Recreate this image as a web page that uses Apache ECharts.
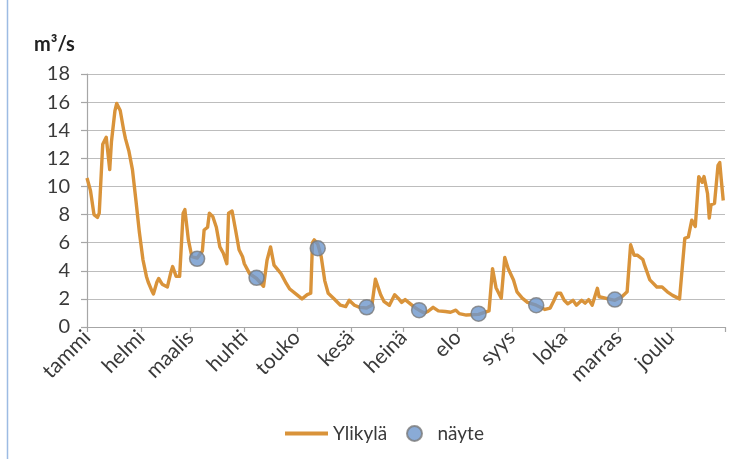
<!DOCTYPE html>
<html>
<head>
<meta charset="utf-8">
<script src="https://cdn.jsdelivr.net/npm/echarts@6/dist/echarts.min.js"></script>
<style>
  html, body { margin: 0; padding: 0; background: #fff; }
  #chart { width: 752px; height: 459px; }
</style>
</head>
<body>
<div id="chart"></div>
<script>
// Month names and the day-of-year on which each month starts
const monthNames = ['tammi', 'helmi', 'maalis', 'huhti', 'touko', 'kesä', 'heinä', 'elo', 'syys', 'loka', 'marras', 'joulu'];
const monthStarts = [0, 31, 59, 90, 120, 151, 181, 212, 243, 273, 304, 334, 365];

// Y axis tick values (m³/s)
const yTicks = [0, 2, 4, 6, 8, 10, 12, 14, 16, 18];

// Daily discharge at Ylikylä: day of year and flow (m³/s)
const flowDays = [
  0, 2, 4, 6, 7, 9, 11, 13, 14, 16, 17, 19, 21, 22, 24, 26, 28, 30, 32, 34,
  35, 37, 38, 40, 41, 43, 46, 48, 49, 51, 53, 55, 56, 58, 60, 63, 66, 67, 69, 70,
  72, 74, 76, 78, 80, 81, 83, 85, 87, 89, 90, 93, 97, 101, 103, 105, 107, 111, 114, 116,
  120, 123, 126, 128, 129, 130, 132, 134, 136, 138, 141, 145, 148, 150, 153, 156, 160, 163, 165, 166,
  168, 170, 173, 176, 178, 180, 182, 185, 188, 190, 193, 195, 198, 201, 205, 208, 211, 213, 217, 224,
  230, 232, 234, 237, 239, 241, 244, 246, 249, 252, 257, 262, 265, 267, 269, 271, 273, 275, 278, 280,
  283, 285, 287, 289, 292, 293, 302, 306, 309, 311, 313, 315, 318, 319, 322, 326, 329, 330, 332, 335,
  339, 342, 344, 346, 348, 349, 350, 352, 353, 355, 356, 357, 359, 361, 362, 363, 364
];
const flowValues = [
  10.6, 9.7, 8.0, 7.8, 8.1, 13.0, 13.5, 11.2, 13.2, 15.4, 15.9, 15.4, 14.0, 13.4, 12.5, 11.2, 9.0, 6.7, 4.8, 3.6,
  3.2, 2.6, 2.35, 3.2, 3.45, 3.05, 2.85, 3.9, 4.3, 3.6, 3.6, 8.1, 8.35, 6.2, 5.0, 4.9, 5.4, 6.9, 7.1, 8.1,
  7.85, 7.1, 5.7, 5.25, 4.5, 8.1, 8.25, 6.9, 5.5, 5.0, 4.5, 3.8, 3.45, 2.9, 4.75, 5.7, 4.4, 3.8, 3.1, 2.7,
  2.3, 2.0, 2.3, 2.4, 6.0, 6.2, 5.9, 5.0, 3.3, 2.4, 2.05, 1.55, 1.45, 1.9, 1.55, 1.4, 1.35, 1.55, 3.4, 3.35,
  2.3, 1.8, 1.55, 2.3, 2.05, 1.75, 1.95, 1.65, 1.35, 1.2, 1.0, 1.1, 1.4, 1.15, 1.1, 1.05, 1.2, 0.95, 0.85, 0.9,
  1.15, 4.15, 2.8, 2.05, 4.95, 4.15, 3.35, 2.5, 2.05, 1.75, 1.55, 1.25, 1.35, 1.85, 2.4, 2.4, 1.9, 1.65, 1.9, 1.55,
  1.9, 1.7, 1.95, 1.55, 2.75, 2.15, 1.9, 2.15, 2.5, 5.85, 5.1, 5.1, 4.8, 4.4, 3.35, 2.85, 2.85, 2.95, 2.5, 2.25,
  2.0, 6.3, 6.4, 7.6, 7.15, 7.1, 10.7, 10.3, 10.7, 9.5, 7.75, 8.7, 8.8, 11.5, 11.7, 10.3, 9.0
];

// Water samples ("näyte"): day of year and flow at sampling (m³/s)
const sampleDays = [63, 97, 132, 160, 190, 224, 257, 302];
const sampleValues = [4.85, 3.5, 5.6, 1.4, 1.2, 0.95, 1.55, 1.95];

const textColor = '#3a3a3a';
const fontFamily = 'Lato, "Open Sans", sans-serif';
const lineColor = '#d9933a';
const legendText = { fontSize: 19, color: textColor, fontFamily: fontFamily };

const chart = echarts.init(document.getElementById('chart'), null, { renderer: 'canvas' });

chart.setOption({
  animation: false,
  backgroundColor: '#ffffff',
  textStyle: { fontFamily: fontFamily, color: textColor },
  grid: { left: 87, right: 27, top: 74, bottom: 132, containLabel: false },
  graphic: [
    {
      type: 'line',
      shape: { x1: 7.5, y1: 0, x2: 7.5, y2: 459 },
      style: { stroke: '#9dbbe3', lineWidth: 1.5 }
    },
    {
      type: 'text',
      left: 34,
      top: 35,
      style: { text: 'm³/s', fill: '#222', font: 'bold 20px ' + fontFamily }
    }
  ],
  legend: [
    {
      top: 424,
      left: 283,
      padding: 0,
      itemWidth: 43,
      itemHeight: 14,
      textStyle: legendText,
      data: [{ name: 'Ylikylä', itemStyle: { opacity: 0 }, lineStyle: { width: 4 } }]
    },
    {
      top: 424,
      left: 406,
      padding: 0,
      itemWidth: 36,
      itemHeight: 15,
      textStyle: legendText,
      data: [{ name: 'näyte' }]
    }
  ],
  xAxis: {
    type: 'value',
    min: 0,
    max: 365,
    axisLine: { show: true, lineStyle: { color: '#a6a6a6', width: 1.2 } },
    axisTick: {
      show: true,
      customValues: monthStarts,
      length: 5,
      lineStyle: { color: '#a6a6a6', width: 1.2 }
    },
    axisLabel: {
      customValues: monthStarts.slice(0, 12),
      rotate: 45,
      margin: 7,
      fontSize: 21,
      color: textColor,
      fontFamily: fontFamily,
      formatter: function (v) {
        const i = monthStarts.indexOf(v);
        return i >= 0 && i < monthNames.length ? monthNames[i] : '';
      }
    },
    splitLine: { show: false }
  },
  yAxis: {
    type: 'value',
    min: yTicks[0],
    max: yTicks[yTicks.length - 1],
    interval: 2,
    axisLine: { show: true, lineStyle: { color: '#a6a6a6', width: 1.2 } },
    axisTick: { show: true, length: 6, lineStyle: { color: '#a6a6a6', width: 1.2 } },
    axisLabel: { fontSize: 20, color: textColor, margin: 17, fontFamily: fontFamily },
    splitLine: { show: true, lineStyle: { color: '#bdbdbd', width: 1.2 } }
  },
  series: [
    {
      name: 'Ylikylä',
      type: 'line',
      symbol: 'none',
      smooth: false,
      lineStyle: { color: lineColor, width: 3.4, join: 'round' },
      itemStyle: { color: lineColor },
      data: flowDays.map((d, i) => [d, flowValues[i]]),
      z: 2
    },
    {
      name: 'näyte',
      type: 'scatter',
      symbol: 'circle',
      symbolSize: 15,
      itemStyle: { color: '#6d96cc', borderColor: '#7a7a7a', borderWidth: 1.5 },
      data: sampleDays.map((d, i) => [d, sampleValues[i]]),
      z: 3
    }
  ]
});
</script>
</body>
</html>
